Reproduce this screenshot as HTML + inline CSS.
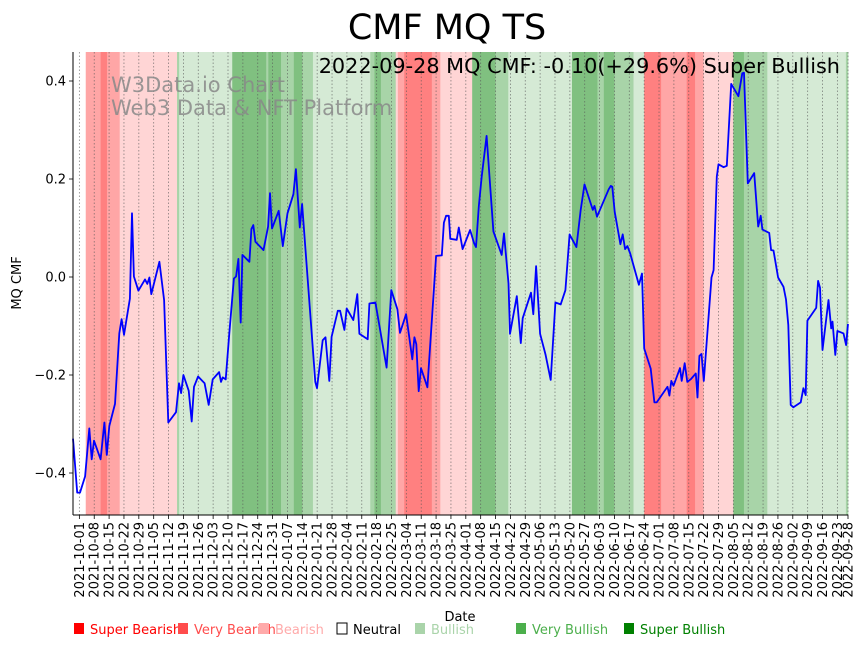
<!DOCTYPE html>
<html><head><meta charset="utf-8"><style>
body{margin:0;background:#fff;}
svg{display:block;font-family:"DejaVu Sans","Liberation Sans",sans-serif;}
</style></head><body>
<svg id="chart" width="867" height="646" viewBox="0 0 867 646">
<text x="447" y="39" font-size="35" text-anchor="middle">CMF MQ TS</text>
<g id="bands"></g>
<g id="grid"></g>
<text x="111" y="92" font-size="21" fill="#888" fill-opacity="0.85">W3Data.io Chart</text>
<text x="111" y="115" font-size="21" fill="#888" fill-opacity="0.85">Web3 Data &amp; NFT Platform</text>
<g id="line"></g>
<text x="840" y="73" font-size="20.8" text-anchor="end">2022-09-28 MQ CMF: -0.10(+29.6%) Super Bullish</text>
<g id="yaxis"></g>
<g id="xaxis"></g>
<text transform="translate(21,283) rotate(-90)" font-size="13" text-anchor="middle">MQ CMF</text>
<text x="460" y="621" font-size="13" text-anchor="middle">Date</text>
<g id="legend"></g>
</svg>
<script>
const seriesDays=[0,2,3.3,5.7,7.7,8.8,9.9,13,14.8,15.9,17.1,19.8,21.8,22.9,24,26.8,27.8,28.7,30.8,33.9,35,36,36.9,40.7,42.9,44.9,48.5,49.9,50.9,52,54.5,55.9,57,58.9,62,63.9,65.8,68.8,69.7,70.5,71.9,73.6,75.8,76.8,77.9,79,79.8,83.1,84,84.9,85.9,89.7,91.9,92.8,93.7,96.9,98.8,101,103.8,105,106.8,107.9,114.1,114.9,117.6,118.9,120.7,121.8,124.7,125.8,127.8,128.9,132,133.9,134.9,138.8,139.6,142.4,147.7,149.9,152.8,154,156.9,159.8,160.8,161.7,162.8,163.9,166.9,171,173.7,174.7,175.7,177,177.7,180.7,181.7,183.5,187,188.9,189.8,191.1,192.5,194.8,198,201.9,203,205.1,205.8,209,210.9,211.8,215.7,216.8,218.1,220,222.6,225,227.2,229.7,231.9,233.9,237.1,239.1,240.9,244.8,245.6,246.8,252.3,253.3,254,255.1,257.8,258.9,260,261.1,262.4,266.5,268,269,272.1,273.8,274.9,280,280.9,281.8,282.8,285.9,286.7,288.1,289.3,291.1,293.3,294.1,295,296,297.1,300.7,301.7,303.2,304,306.4,307.9,310,313.4,315.2,316,317.8,320.8,322.7,323.9,324.7,327.9,328.8,329.9,332.1,334.6,335.8,336.9,338,339.3,342.7,344,345.1,345.9,350,350.9,351.8,353,355.8,357.1,357.7,359,360,362.9,364.1,365];
const seriesValues=[-0.33,-0.44,-0.44,-0.407,-0.309,-0.372,-0.334,-0.372,-0.297,-0.363,-0.304,-0.259,-0.115,-0.086,-0.118,-0.044,0.13,0.001,-0.028,-0.005,-0.014,-0.001,-0.035,0.031,-0.047,-0.297,-0.276,-0.217,-0.237,-0.2,-0.232,-0.295,-0.224,-0.203,-0.217,-0.261,-0.209,-0.194,-0.214,-0.205,-0.209,-0.115,-0.003,0.001,0.037,-0.093,0.045,0.031,0.098,0.106,0.072,0.055,0.103,0.171,0.099,0.135,0.063,0.13,0.169,0.22,0.101,0.149,-0.214,-0.227,-0.129,-0.123,-0.212,-0.122,-0.069,-0.069,-0.108,-0.064,-0.088,-0.035,-0.116,-0.127,-0.054,-0.052,-0.185,-0.027,-0.066,-0.114,-0.076,-0.168,-0.123,-0.137,-0.233,-0.186,-0.225,0.043,0.044,0.111,0.125,0.125,0.078,0.076,0.101,0.057,0.096,0.069,0.061,0.144,0.205,0.288,0.093,0.045,0.089,-0.013,-0.116,-0.039,-0.135,-0.084,-0.032,-0.076,0.022,-0.116,-0.159,-0.21,-0.052,-0.056,-0.027,0.087,0.061,0.137,0.189,0.137,0.145,0.123,0.179,0.186,0.184,0.133,0.067,0.087,0.057,0.063,0.048,-0.016,0.007,-0.146,-0.187,-0.256,-0.256,-0.224,-0.242,-0.212,-0.222,-0.186,-0.212,-0.176,-0.214,-0.208,-0.197,-0.246,-0.161,-0.157,-0.212,-0.001,0.014,0.205,0.23,0.224,0.227,0.394,0.369,0.416,0.417,0.191,0.212,0.103,0.125,0.097,0.09,0.055,0.054,-0.001,-0.02,-0.046,-0.098,-0.261,-0.266,-0.256,-0.227,-0.241,-0.089,-0.063,-0.008,-0.022,-0.149,-0.047,-0.105,-0.091,-0.159,-0.11,-0.115,-0.139,-0.096];
const bandStarts=[0,6,13,16,22,49,50,75,91,92,98,104,108,113,140,142,145,152,153,156,169,173,188,199,205,235,247,250,255,264,269,277,289,293,297,311,316,327,364];
const bandEnds=[6,13,16,22,49,50,75,91,92,98,104,108,113,140,142,145,152,153,156,169,173,188,199,205,235,247,250,255,264,269,277,289,293,297,311,316,327,364,365];
const bandLevels=[0,-2,-3,-2,-1,2,1,3,2,3,2,3,2,1,2,3,2,-1,-2,-3,-2,-1,3,2,1,3,2,3,2,1,-3,-2,-3,-2,-1,3,2,1,2];
const yTicks=[-0.4,-0.2,0.0,0.2,0.4];
const yTickLabels=["−0.4","−0.2","0.0","0.2","0.4"];
const xTickLabels=[];
(function(){const s=new Date(Date.UTC(2021,9,1));for(let i=0;i<=51;i++){const d=new Date(s.getTime()+i*7*864e5);xTickLabels.push(d.toISOString().slice(0,10));}xTickLabels.push("2022-09-28");})();
const legendLabels=["Super Bearish","Very Bearish","Bearish","Neutral","Bullish","Very Bullish","Super Bullish"];

const NS="http://www.w3.org/2000/svg";
const L=73,R=848,T=52,B=515,D0=0,D1=365;
const startDate=Date.UTC(2021,8,28);
function xs(d){return L+(d-D0)/(D1-D0)*(R-L);}
function ys(v){return 277-v*490;}
function mk(tag,attrs,parent){const e=document.createElementNS(NS,tag);for(const k in attrs)e.setAttribute(k,attrs[k]);parent.appendChild(e);return e;}
const bandFill={"-3":"#ff8080","-2":"#ffa6a6","-1":"#ffd5d5","0":"#ffffff","1":"#d5ead5","2":"#a8d4a8","3":"#80c080"};
const gB=document.getElementById('bands');
for(let i=0;i<bandStarts.length;i++){
 const r=mk('rect',{x:xs(bandStarts[i]),y:T,width:xs(bandEnds[i])-xs(bandStarts[i])+0.3,height:B-T,fill:bandFill[bandLevels[i]]},gB);
 
 
}
const gG=document.getElementById('grid'),gX=document.getElementById('xaxis');
xTickLabels.forEach(lbl=>{
 const d=(Date.UTC(+lbl.slice(0,4),+lbl.slice(5,7)-1,+lbl.slice(8,10))-startDate)/864e5;
 const x=xs(d);
 const g=mk('line',{x1:x,x2:x,y1:T,y2:B,stroke:'#555','stroke-width':0.8,'stroke-dasharray':'1.5,2','stroke-opacity':0.7},gG);
 
 
 const t=mk('line',{x1:x,x2:x,y1:B,y2:B+4,stroke:'#000','stroke-width':0.8},gX);
 
 
 const tx=mk('text',{transform:`translate(${x+4.5},${B+7}) rotate(-90)`,'font-size':13,'text-anchor':'end'},gX);
 tx.textContent=lbl;
 
 
});
const gY=document.getElementById('yaxis');
yTicks.forEach((v,i)=>{
 const y=ys(v);
 const t=mk('line',{x1:L-4,x2:L,y1:y,y2:y,stroke:'#000','stroke-width':0.8},gY);
 
 
 const tx=mk('text',{x:L-7,y:y+4.5,'font-size':13,'text-anchor':'end'},gY);
 tx.textContent=yTickLabels[i];
 
 
});
const sp1=mk('line',{x1:L,x2:L,y1:T,y2:B,stroke:'#000','stroke-width':1},gY);


const sp2=mk('line',{x1:L,x2:R,y1:B,y2:B,stroke:'#000','stroke-width':1},gX);


const pts=seriesDays.map((d,i)=>xs(d).toFixed(1)+','+ys(seriesValues[i]).toFixed(1)).join(' ');
const pl=mk('polyline',{points:pts,fill:'none',stroke:'#0000ff','stroke-width':1.8,'stroke-linejoin':'round'},document.getElementById('line'));


const legX=[74,178,259,337,415,516,624];
const legSq=["#ff0000","#ff4c4c","#ffaaaa","#ffffff","#aad4aa","#4caf4c","#008000"];
const legTx=["#ff0000","#ff4c4c","#ffaaaa","#000000","#aad4aa","#4caf4c","#008000"];
const gL=document.getElementById('legend');
legendLabels.forEach((lb,i)=>{
 const r=mk('rect',{x:legX[i],y:623,width:10,height:11,fill:legSq[i],stroke:i===3?'#000':'none','stroke-width':1},gL);
 
 
 const t=mk('text',{x:legX[i]+16,y:634,'font-size':13,fill:legTx[i]},gL);
 t.textContent=lb;
 
 
});
</script>
</body></html>
